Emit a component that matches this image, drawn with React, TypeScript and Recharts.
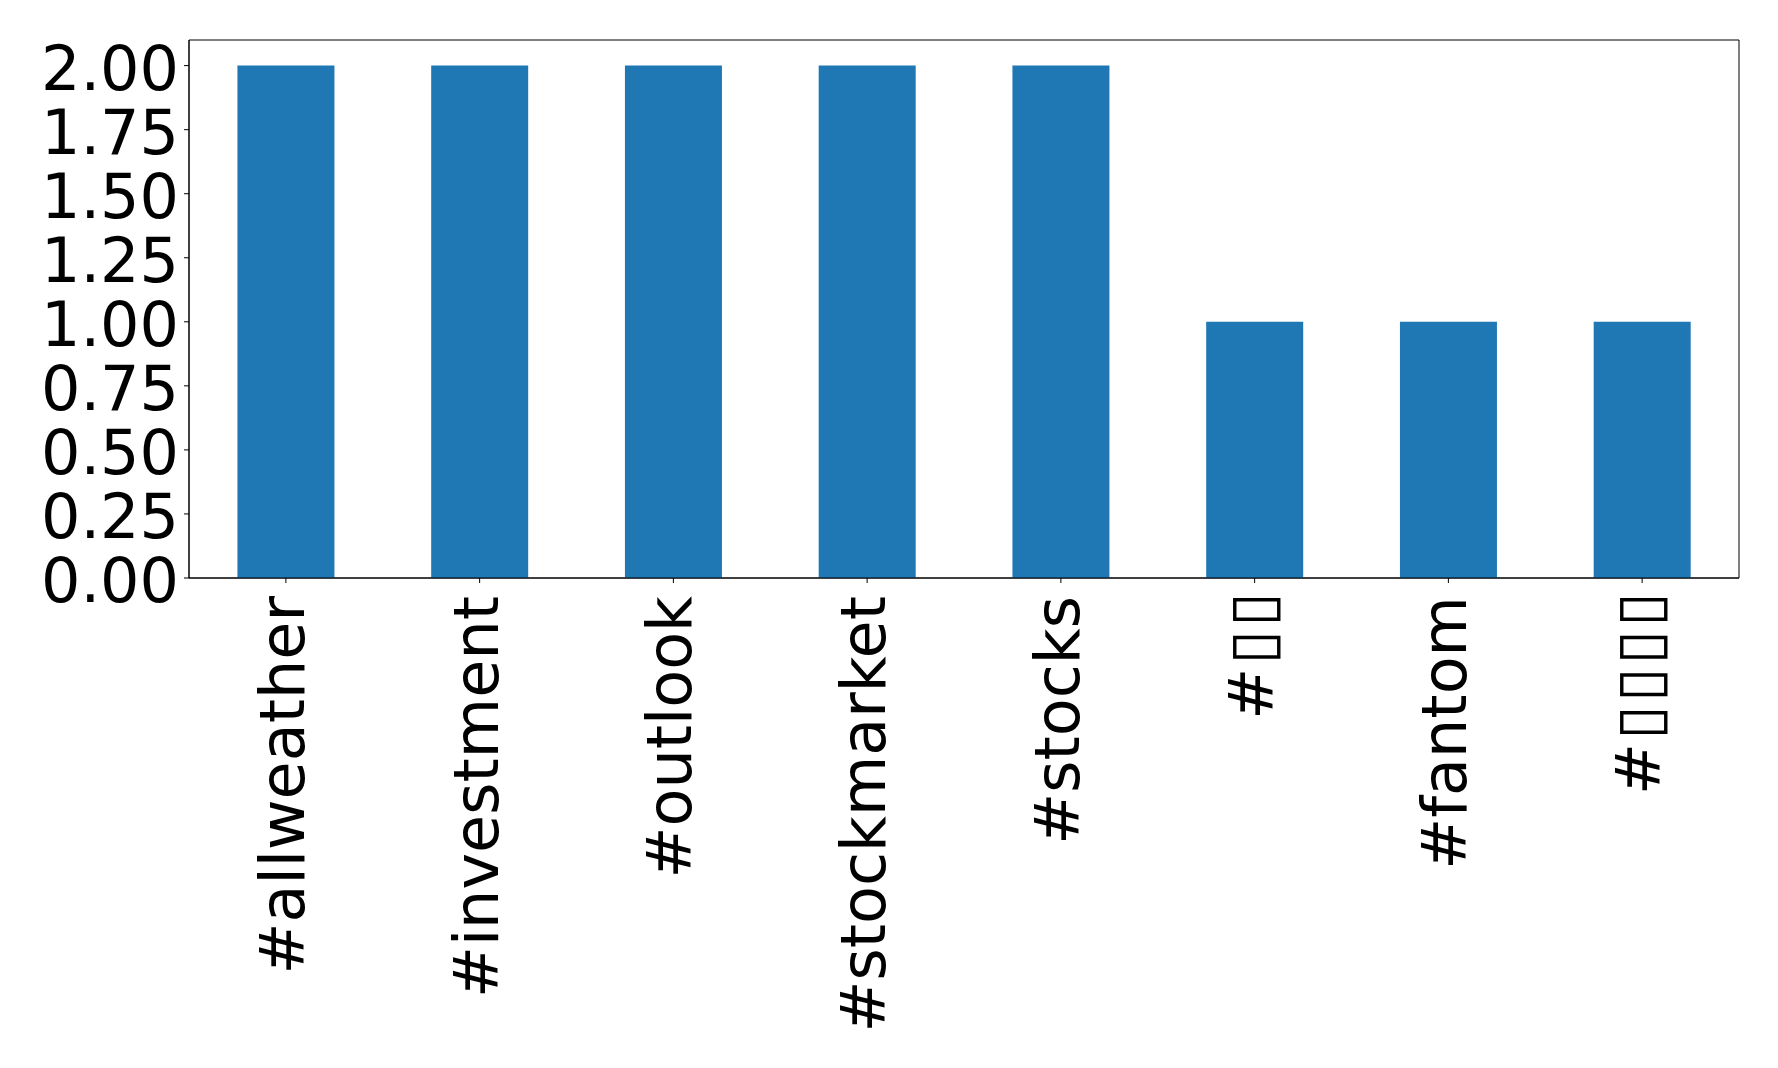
import React from "react";
import { BarChart, Bar, XAxis, YAxis, ReferenceArea } from "recharts";

const categories = ["#allweather", "#investment", "#outlook", "#stockmarket", "#stocks", "#▯▯", "#fantom", "#▯▯▯▯"];
const counts = [2, 2, 2, 2, 2, 1, 1, 1];
const yTicks = [0, 0.25, 0.5, 0.75, 1.0, 1.25, 1.5, 1.75, 2.0];

const data = categories.map((name, i) => ({ name, count: counts[i] }));

const FONT = "'DejaVu Sans', sans-serif";
const FS = 62;

const XTick = (props: any) => {
  const { x, y, payload } = props;
  const label = String(payload.value);
  const hasBox = label.includes("▯");
  return (
    <text
      x={x}
      y={y}
      transform={`rotate(-90 ${x} ${y})`}
      textAnchor="end"
      dx={hasBox ? 7 : 0}
      dy={18}
      fontFamily={FONT}
      fontSize={FS}
      fill="#000"
      style={hasBox ? { letterSpacing: "3.5px" } : undefined}
    >
      {label}
    </text>
  );
};

const YTick = (props: any) => {
  const { x, y, payload } = props;
  return (
    <text x={x} y={y} textAnchor="end" dy={24} fontFamily={FONT} fontSize={FS} fill="#000">
      {Number(payload.value).toFixed(2)}
    </text>
  );
};

export default function App() {
  return (
    <div style={{ position: "absolute", left: 0, top: 0, background: "#fff" }}>
      <BarChart
        width={1778}
        height={1068}
        data={data}
        margin={{ top: 40, right: 39, left: 0, bottom: 0 }}
        barCategoryGap="25%"
      >
        <XAxis
          dataKey="name"
          interval={0}
          height={490}
          tick={<XTick />}
          tickSize={5}
          tickMargin={13}
          axisLine={{ stroke: "#000", strokeWidth: 1 }}
          tickLine={{ stroke: "#000", strokeWidth: 1 }}
        />
        <YAxis
          width={189}
          domain={[0, 2.1]}
          ticks={yTicks}
          tick={<YTick />}
          tickSize={5}
          tickMargin={5}
          axisLine={{ stroke: "#000", strokeWidth: 1 }}
          tickLine={{ stroke: "#000", strokeWidth: 1 }}
        />
        <Bar dataKey="count" fill="#1f77b4" isAnimationActive={false} />
        <ReferenceArea y1={0} y2={2.1} fill="none" stroke="#000" strokeWidth={1} />
      </BarChart>
    </div>
  );
}
